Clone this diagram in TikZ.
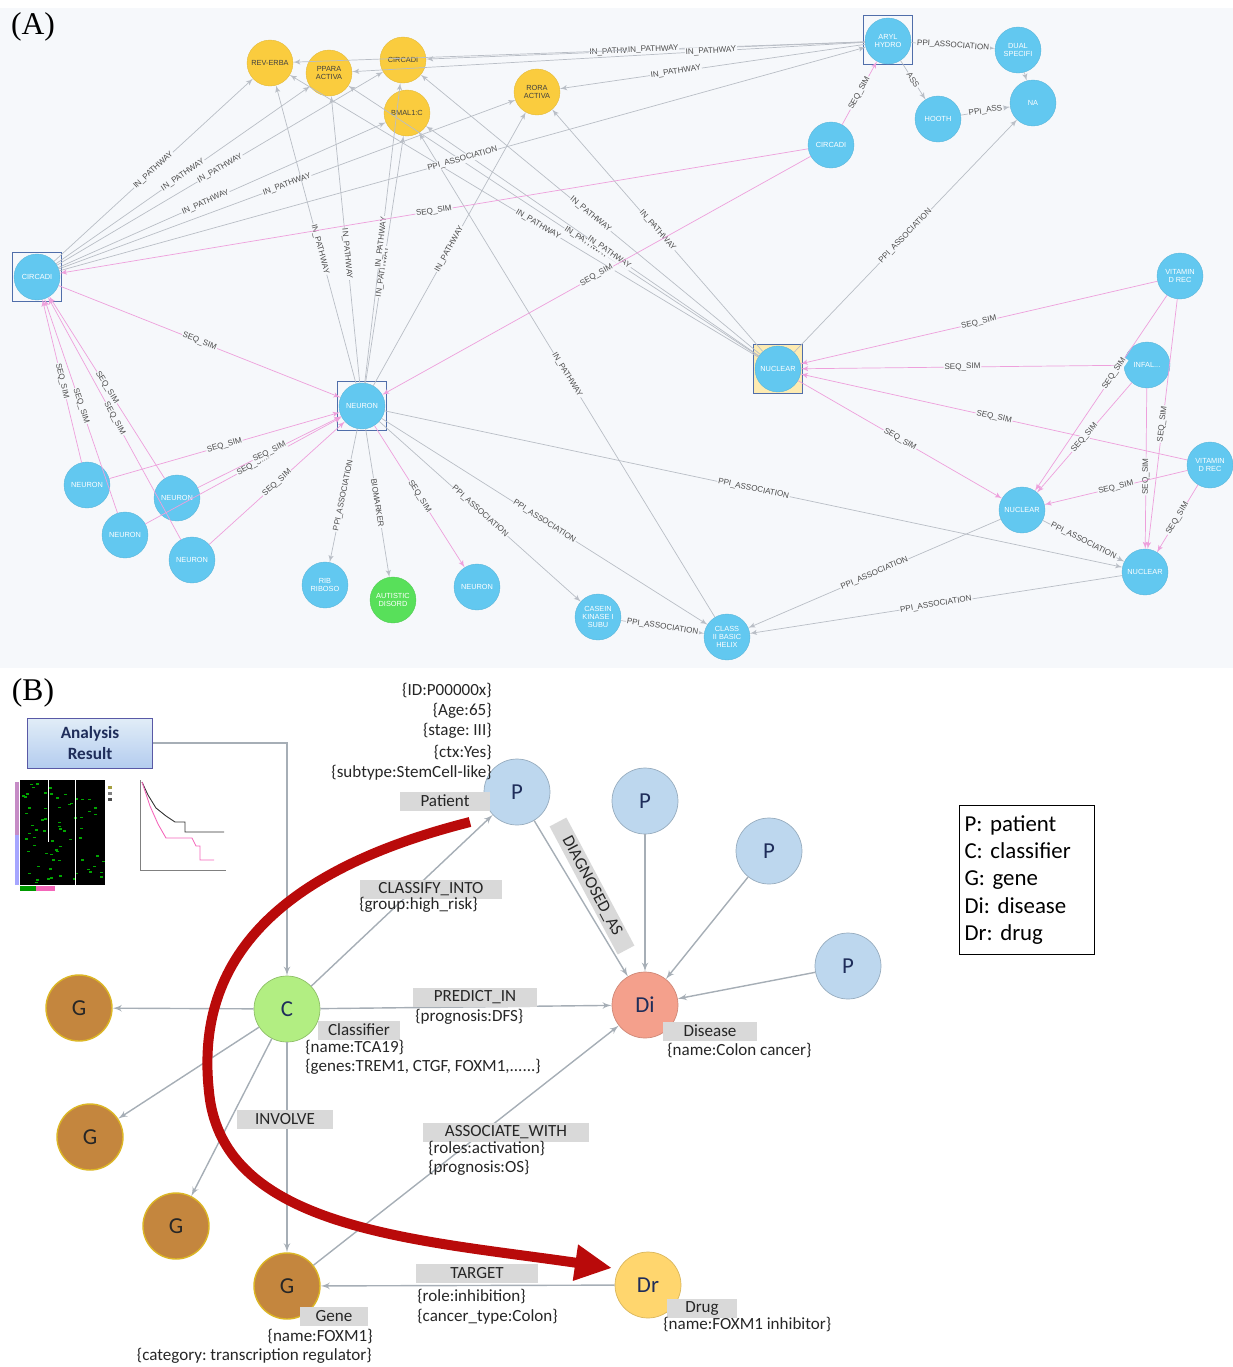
\documentclass[tikz,border=0pt]{standalone}
\usepackage{fontspec}
\usepackage{tikz}
\usetikzlibrary{positioning}
\usetikzlibrary{arrows}
\usetikzlibrary{arrows.meta}
\setmainfont{Liberation Serif}
\newfontfamily\carl{Carlito}
\newfontfamily\arialf{Liberation Sans}
\newcommand{\tinyA}{\arialf\fontsize{4.6}{5.2}\selectfont}
\newcommand{\nodeA}{\arialf\fontsize{4.2}{4.6}\selectfont}
\newcommand{\propB}{\carl\fontsize{9.7}{11}\selectfont}
\definecolor{panelbg}{RGB}{246,248,251}
\definecolor{nodeblue}{RGB}{98,200,240}
\definecolor{nodeyellow}{RGB}{250,204,62}
\definecolor{nodegreen}{RGB}{88,224,90}
\definecolor{edgegray}{RGB}{185,190,198}
\definecolor{edgepink}{RGB}{238,160,220}
\definecolor{boxblue}{RGB}{80,110,170}
\definecolor{patblue}{RGB}{189,215,238}
\definecolor{clsgreen}{RGB}{178,238,130}
\definecolor{genebrown}{RGB}{196,134,62}
\definecolor{disred}{RGB}{244,160,140}
\definecolor{drugyellow}{RGB}{255,214,110}
\definecolor{taggray}{RGB}{217,217,217}
\definecolor{inkblue}{RGB}{31,45,90}
\definecolor{bedgegray}{RGB}{166,174,182}
\definecolor{bigred}{RGB}{185,10,10}
\frenchspacing

\begin{document}
\begin{tikzpicture}[x=0.02cm, y=-0.02cm]

\tikzset{
    gnode/.style={circle, fill=nodeblue, draw=nodeblue!90!black, line width=0.2pt, minimum size=0.92cm, inner sep=0pt, align=center, text=white, font=\nodeA},
    ynode/.style={gnode, fill=nodeyellow, draw=nodeyellow!90!black, text=black!75},
    grnode/.style={gnode, fill=nodegreen, draw=nodegreen!90!black},
    selbox/.style={rectangle, draw=boxblue, line width=0.5pt, minimum size=0.98cm, inner sep=0pt},
    pedge/.style={->,> = latex', draw=edgegray, line width=0.4pt},
    sedge/.style={pedge, draw=edgepink},
    elab/.style={font=\tinyA, text=black!70, sloped, inner sep=0.5pt, fill=panelbg},
    bnode/.style={circle, minimum size=1.32cm, inner sep=0pt, font=\carl\fontsize{13}{15}\selectfont, text=inkblue, line width=0.4pt},
    pnode/.style={bnode, fill=patblue, draw=patblue!80!black},
    cnode/.style={bnode, fill=clsgreen, draw=clsgreen!80!black},
    genenode/.style={bnode, fill=genebrown, draw=genebrown!60!yellow, line width=0.8pt, text=black!85},
    dinode/.style={bnode, fill=disred, draw=disred!85!black},
    drnode/.style={bnode, fill=drugyellow, draw=drugyellow!85!black},
    tag/.style={fill=taggray, font=\propB, text=black!85, inner sep=0pt, minimum height=0.38cm},
    prop/.style={font=\propB, text=black!85, inner sep=0pt},
    bedge/.style={->,> = latex', draw=bedgegray, line width=0.8pt},
    bigarrow/.style={-{Triangle[length=0.74cm, width=0.68cm]}, draw=bigred, line width=0.2cm}
}
% variables
\def\inp{IN\_PATHWAY}
\def\ppi{PPI\_ASSOCIATION}
\def\seq{SEQ\_SIM}

\useasboundingbox (0,0) rectangle (1233,1367);

% ============ PANEL A ============ %
\fill[panelbg] (0,8) rectangle (1233,668);
\node[font=\fontsize{18}{20}\selectfont] (labA) at (33,27) {(A)};

% selection boxes
\node[selbox] (cirLbox) at (37,277) {};
\node[selbox] (hubbox) at (362,406) {};
\node[selbox, fill=nodeyellow!40] (nucBbox) at (778,369) {};
\node[selbox] (arylbox) at (888,40) {};

% pathway nodes
\node[ynode] (revErb) at (270,63) {REV-ERBA};
\node[ynode] (ppara) at (329,73) {PPARA\\ACTIVA};
\node[ynode] (cirY) at (403,60) {CIRCADI};
\node[ynode] (bmal) at (407,113) {BMAL1:C};
\node[ynode] (rora) at (537,92) {RORA\\ACTIVA};

% gene nodes
\node[gnode] (aryl) at (888,41) {ARYL\\HYDRO};
\node[gnode] (dual) at (1018,50) {DUAL\\SPECIFI};
\node[gnode] (na) at (1033,103) {NA};
\node[gnode] (hooth) at (938,119) {HOOTH};
\node[gnode] (cirB) at (831,145) {CIRCADI};
\node[gnode] (cirL) at (37,277) {CIRCADI};
\node[gnode] (hub) at (362,406) {NEURON};
\node[gnode] (nucB) at (778,369) {NUCLEAR};
\node[gnode] (vitA) at (1180,276) {VITAMIN\\D REC};
\node[gnode] (infal) at (1147,365) {INFAL...};
\node[gnode] (vitB) at (1210,465) {VITAMIN\\D REC};
\node[gnode] (nucD) at (1022,510) {NUCLEAR};
\node[gnode] (nucE) at (1145,572) {NUCLEAR};
\node[gnode] (neuA) at (87,485) {NEURON};
\node[gnode] (neuB) at (125,535) {NEURON};
\node[gnode] (neuC) at (177,498) {NEURON};
\node[gnode] (neuD) at (192,560) {NEURON};
\node[gnode] (rib) at (325,585) {RIB\\RIBOSO};
\node[grnode] (aut) at (393,600) {AUTISTIC\\DISORD};
\node[gnode] (neuE) at (477,587) {NEURON};
\node[gnode] (cas) at (598,617) {CASEIN\\KINASE I\\SUBU};
\node[gnode] (cls) at (727,637) {CLASS\\II BASIC\\HELIX};

% pathway edges
\draw[pedge] (cirL) -- (revErb) node[elab, pos=.5] {\inp};
\draw[pedge] (cirL) -- (ppara) node[elab, pos=.5] {\inp};
\draw[pedge] (cirL) -- (cirY) node[elab, pos=.5] {\inp};
\draw[pedge] (cirL) -- (bmal) node[elab, pos=.45] {\inp};
\draw[pedge] (cirL) -- (rora) node[elab, pos=.5] {\inp};
\draw[pedge] (hub) -- (revErb) node[elab, pos=.45] {\inp};
\draw[pedge] (hub) -- (ppara) node[elab, pos=.45] {\inp};
\draw[pedge] (hub) -- (bmal) node[elab, pos=.45] {\inp};
\draw[pedge] (hub) -- (cirY) node[elab, pos=.47] {\inp};
\draw[pedge] (hub) -- (rora) node[elab, pos=.5] {\inp};
\draw[pedge] (nucB) -- (revErb) node[elab, pos=.47] {\inp};
\draw[pedge] (nucB) -- (ppara) node[elab, pos=.42] {\inp};
\draw[pedge] (nucB) -- (cirY) node[elab, pos=.5] {\inp};
\draw[pedge] (nucB) -- (bmal) node[elab, pos=.45] {\inp};
\draw[pedge] (nucB) -- (rora) node[elab, pos=.5] {\inp};
\draw[pedge] (cls) -- (bmal) node[elab, pos=.5] {\inp};
\draw[pedge] (aryl) -- (cirY) node[elab, pos=.57] {\inp};
\draw[pedge] (aryl) -- (revErb) node[elab, pos=.37] {\inp};
\draw[pedge] (aryl) -- (rora) node[elab, pos=.62] {\inp};
\draw[pedge] (aryl) -- (ppara) node[elab, pos=.3] {\inp};

% association edges
\draw[pedge] (cirL) -- (aryl) node[elab, pos=.5] {\ppi};
\draw[pedge] (aryl) -- (dual) node[elab, pos=.5] {\ppi};
\draw[pedge] (aryl) -- (hooth) node[elab, pos=.5] {ASS};
\draw[pedge] (hooth) -- (na) node[elab, pos=.5] {PPI\_ASS};
\draw[pedge] (dual) -- (na);
\draw[pedge] (nucB) -- (na) node[elab, pos=.5] {\ppi};
\draw[pedge] (hub) -- (nucE) node[elab, pos=.5] {\ppi};
\draw[pedge] (hub) -- (cas) node[elab, pos=.5] {\ppi};
\draw[pedge] (hub) -- (cls) node[elab, pos=.5] {\ppi};
\draw[pedge] (cas) -- (cls) node[elab, pos=.5] {\ppi};
\draw[pedge] (nucD) -- (cls) node[elab, pos=.5] {\ppi};
\draw[pedge] (nucE) -- (cls) node[elab, pos=.5] {\ppi};
\draw[pedge] (nucD) -- (nucE) node[elab, pos=.5] {\ppi};
\draw[pedge] (hub) -- (rib) node[elab, pos=.5] {\ppi};
\draw[pedge] (hub) -- (aut) node[elab, pos=.5] {BIOMARKER};

% similarity edges
\draw[sedge] (cirB) -- (aryl) node[elab, pos=.5] {\seq};
\draw[sedge] (cirB) -- (cirL) node[elab, pos=.5] {\seq};
\draw[sedge] (cirB) -- (hub) node[elab, pos=.5] {\seq};
\draw[sedge] (cirL) -- (hub) node[elab, pos=.5] {\seq};
\draw[sedge] (hub) -- (neuE) node[elab, pos=.5] {\seq};
\draw[sedge] (neuA) -- (cirL) node[elab, pos=.5] {\seq};
\draw[sedge] (neuB) -- (cirL) node[elab, pos=.5] {\seq};
\draw[sedge] (neuC) -- (cirL) node[elab, pos=.5] {\seq};
\draw[sedge] (neuD) -- (cirL) node[elab, pos=.5] {\seq};
\draw[sedge] (neuA) -- (hub) node[elab, pos=.5] {\seq};
\draw[sedge] (neuB) -- (hub) node[elab, pos=.55] {\seq};
\draw[sedge] (neuC) -- (hub) node[elab, pos=.5] {\seq};
\draw[sedge] (neuD) -- (hub) node[elab, pos=.5] {\seq};
\draw[sedge] (vitA) -- (nucB) node[elab, pos=.5] {\seq};
\draw[sedge] (infal) -- (nucB) node[elab, pos=.5] {\seq};
\draw[sedge] (vitB) -- (nucB) node[elab, pos=.5] {\seq};
\draw[sedge] (nucB) -- (nucD) node[elab, pos=.5] {\seq};
\draw[sedge] (vitA) -- (nucD) node[elab, pos=.4] {\seq};
\draw[sedge] (infal) -- (nucD) node[elab, pos=.5] {\seq};
\draw[sedge] (infal) -- (nucE) node[elab, pos=.55] {\seq};
\draw[sedge] (vitA) -- (nucE) node[elab, pos=.5] {\seq};
\draw[sedge] (vitB) -- (nucD) node[elab, pos=.5] {\seq};
\draw[sedge] (vitB) -- (nucE) node[elab, pos=.5] {\seq};

% ============ PANEL B ============ %
\node[font=\fontsize{18}{20}\selectfont] (labB) at (33,693) {(B)};

% analysis result and its plots
\node[draw=blue!30!gray, top color=patblue!45, bottom color=patblue!95!blue, minimum width=2.5cm, minimum height=1cm, align=center, font=\carl\bfseries\fontsize{9.8}{11.5}\selectfont, text=inkblue] (analysis) at (90,743) {Analysis\\Result};
\fill[black] (20,780) rectangle (105,885);
\fill[violet!45] (15,782) rectangle (19,835);
\fill[blue!35] (15,835) rectangle (19,885);
\fill[green!60!black] (20,886) rectangle (36,891);
\fill[magenta!60] (36,886) rectangle (55,891);
\pgfmathsetseed{7}
\foreach \i in {1,...,70} {
    \fill[green!65!black] ({22+81*rnd},{782+100*rnd}) rectangle ++(3,1.5);
}
\draw[white, line width=0.5pt] (48,780) -- (48,842) (75,780) -- (75,885);
\fill[yellow!60!black] (108,786) rectangle ++(4,3);
\fill[gray] (108,792) rectangle ++(4,3);
\fill[black!70] (108,798) rectangle ++(4,3);
\draw[gray, line width=0.3pt] (140,780) -- (140,870) -- (226,870);
\draw[black!80, line width=0.5pt] (142,782) -- (148,795) -- (156,808) -- (166,816) -- (175,822) -- (185,822) -- (185,832) -- (224,832);
\draw[magenta!60, line width=0.5pt] (142,782) -- (150,806) -- (158,824) -- (166,838) -- (192,838) -- (196,846) -- (200,846) -- (200,860) -- (214,860);

% nodes
\node[pnode] (pat) at (517,792) {P};
\node[pnode] (patB) at (645,801) {P};
\node[pnode] (patC) at (769,851) {P};
\node[pnode] (patD) at (848,966) {P};
\node[dinode] (dis) at (645,1005) {Di};
\node[cnode] (cls19) at (287,1009) {C};
\node[genenode] (geneA) at (79,1008) {G};
\node[genenode] (geneB) at (90,1137) {G};
\node[genenode] (geneC) at (176,1226) {G};
\node[genenode] (foxm) at (287,1286) {G};
\node[drnode] (drug) at (648,1285) {Dr};

% patient properties
\node[prop, anchor=east] (pid) at (492,690) {\{ID:P00000x\}};
\node[prop, anchor=east] (page) at (492,711) {\{Age:65\}};
\node[prop, anchor=east] (pstage) at (492,731) {\{stage: III\}};
\node[prop, anchor=east] (pctx) at (492,752) {\{ctx:Yes\}};
\node[prop, anchor=east] (psub) at (492,773) {\{subtype:StemCell-like\}};
\node[tag, minimum width=1.8cm] (ptag) at (445,801) {Patient};

% edges
\draw[bedge] (analysis.east) -| (cls19.north);
\draw[bedge] (cls19) -- (pat);
\draw[bedge] (pat) -- (dis);
\draw[bedge] (patB) -- (dis);
\draw[bedge] (patC) -- (dis);
\draw[bedge] (patD) -- (dis);
\draw[bedge] (cls19) -- (dis);
\draw[bedge] (cls19) -- (geneA);
\draw[bedge] (cls19) -- (geneB);
\draw[bedge] (cls19) -- (geneC);
\draw[bedge] (cls19) -- (foxm);
\draw[bedge] (foxm) -- (dis);
\draw[bedge] (drug) -- (foxm);

% edge tags
\node[tag, minimum width=2.86cm] (ctag) at (431,889) {CLASSIFY\_INTO};
\node[prop, anchor=west] (cgroup) at (359,905) {\{group:high\_risk\}};
\node[tag, minimum width=2.9cm, rotate=-62] (dtag) at (592,886) {DIAGNOSED\_AS};
\node[tag, minimum width=2.48cm] (prtag) at (475,997) {PREDICT\_IN};
\node[prop, anchor=west] (prdfs) at (415,1017) {\{prognosis:DFS\}};
\node[tag, minimum width=1.64cm] (cltag) at (359,1030) {Classifier};
\node[prop, anchor=west] (clname) at (305,1047) {\{name:TCA19\}};
\node[prop, anchor=west] (clgenes) at (305,1067) {\{genes:TREM1, CTGF, FOXM1,......\}};
\node[tag, minimum width=1.9cm] (ditag) at (710,1031) {Disease};
\node[prop, anchor=west] (diname) at (667,1050) {\{name:Colon cancer\}};
\node[tag, minimum width=1.92cm] (invtag) at (285,1119) {INVOLVE};
\node[tag, minimum width=3.34cm] (asstag) at (506,1132) {ASSOCIATE\_WITH};
\node[prop, anchor=west] (assrole) at (428,1148) {\{roles:activation\}};
\node[prop, anchor=west] (assos) at (428,1168) {\{prognosis:OS\}};
\node[tag, minimum width=2.44cm] (tgtag) at (477,1273) {TARGET};
\node[prop, anchor=west] (tgrole) at (417,1296) {\{role:inhibition\}};
\node[prop, anchor=west] (tgtype) at (417,1317) {\{cancer\_type:Colon\}};
\node[tag, minimum width=1.36cm] (gntag) at (334,1316) {Gene};
\node[prop, anchor=east] (gnname) at (373,1336) {\{name:FOXM1\}};
\node[prop, anchor=east] (gncat) at (372,1356) {\{category: transcription regulator\}};
\node[tag, minimum width=1.4cm] (drtag) at (702,1308) {Drug};
\node[prop, anchor=west] (drname) at (663,1324) {\{name:FOXM1 inhibitor\}};

% red path
\coordinate (redstart) at (470,822);
\coordinate (redend) at (612,1268);
\draw[bigarrow] (redstart) .. controls (240,880) and (195,990) .. (210,1100) .. controls (230,1230) and (420,1240) .. (redend);

% legend
\node[draw, line width=0.6pt, align=left, text width=2.5cm, minimum height=2.98cm, inner xsep=0.1cm, font=\carl\fontsize{13}{15.5}\selectfont] (legend) at (1027,880) {P: patient\\C: classifier\\G: gene\\Di: disease\\Dr: drug};

\end{tikzpicture}
\end{document}
